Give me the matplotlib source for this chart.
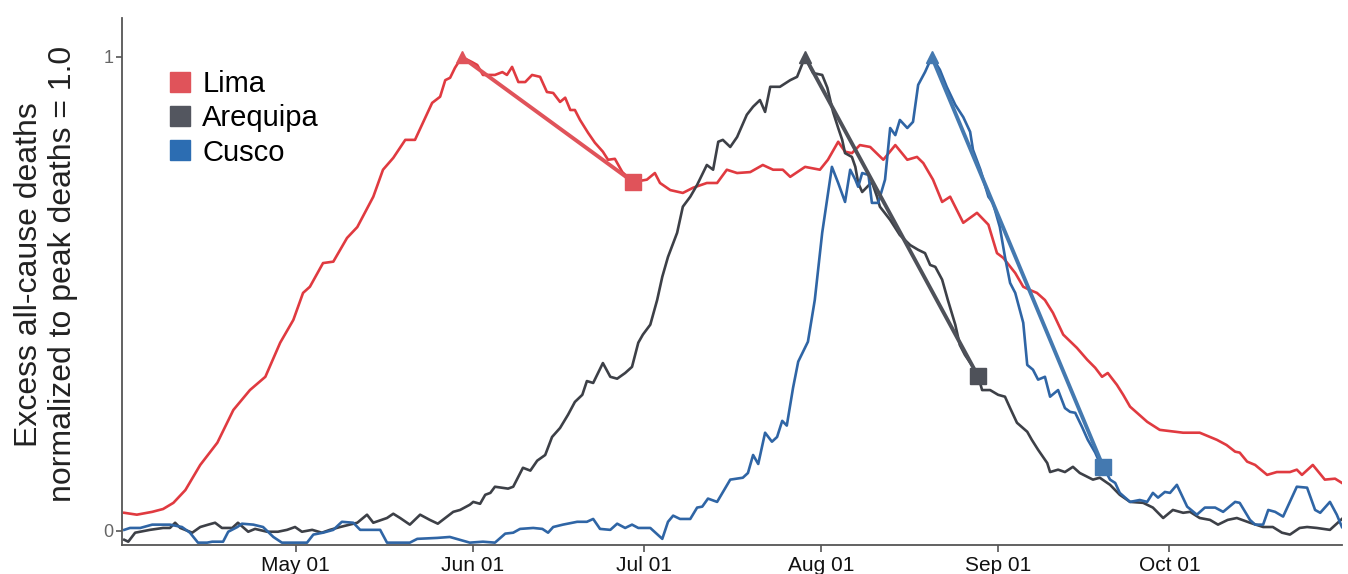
import numpy as np
import matplotlib
matplotlib.use("Agg")
import matplotlib.pyplot as plt
import matplotlib.dates as mdates
from matplotlib.lines import Line2D

plt.rcParams["font.family"] = ["Liberation Sans", "DejaVu Sans"]

# days since 2020-04-01, normalized excess deaths
start = np.datetime64("2020-04-01")

lima_day = [0.0, 2.2, 4.9, 6.8, 8.6, 10.7, 13.3, 16.3, 19.1, 22.0, 24.7, 27.3, 29.6, 31.3, 32.5,
            34.8, 36.6, 39.0, 40.8, 43.6, 45.3, 47.1, 49.2, 50.9, 53.9, 55.3, 56.2, 57.05, 57.9,
            59.1, 60.9, 61.8, 62.8, 64.9, 66.2, 67.0, 67.9, 69.0, 70.2, 71.4, 72.8, 74.0, 75.1,
            76.3, 77.2, 78.1, 78.9, 79.8, 81.2, 82.4, 83.8, 84.7, 85.9, 87.2, 89.1, 91.5, 92.9,
            93.8, 95.6, 97.8, 99.6, 102.0, 103.8, 105.5, 107.3, 109.6, 111.8, 113.6, 115.3,
            116.6, 119.2, 121.8, 123.2, 125.0, 126.2, 127.4, 128.8, 130.6, 132.9, 135.0, 137.1,
            138.8, 139.9, 141.6, 143.2, 144.6, 146.9, 149.3, 151.3, 152.8, 153.9, 156.0, 157.4,
            158.6, 159.8, 161.2, 162.6, 164.4, 166.8, 168.6, 170.0, 171.2, 172.2, 173.8, 174.9,
            176.1, 179.1, 181.3, 185.4, 188.3, 191.3, 193.0, 194.5, 195.3, 196.6, 198.0, 200.1,
            201.8, 204.1, 205.3, 206.2, 208.1, 210.2, 212.0, 213.2]
lima_val = [0.038, 0.034, 0.040, 0.046, 0.059, 0.086, 0.139, 0.186, 0.255, 0.297, 0.325, 0.397,
            0.445, 0.502, 0.515, 0.565, 0.568, 0.618, 0.641, 0.705, 0.762, 0.787, 0.825, 0.825,
            0.903, 0.916, 0.951, 0.956, 0.977, 1.0, 0.989, 0.983, 0.962, 0.962, 0.968, 0.962,
            0.979, 0.947, 0.947, 0.962, 0.958, 0.926, 0.924, 0.905, 0.914, 0.888, 0.888, 0.867,
            0.840, 0.819, 0.800, 0.783, 0.785, 0.757, 0.736, 0.741, 0.755, 0.734, 0.719, 0.713,
            0.724, 0.734, 0.734, 0.762, 0.755, 0.757, 0.772, 0.762, 0.762, 0.747, 0.768, 0.762,
            0.783, 0.821, 0.800, 0.797, 0.814, 0.810, 0.783, 0.814, 0.783, 0.789, 0.776, 0.741,
            0.694, 0.705, 0.650, 0.671, 0.646, 0.586, 0.576, 0.544, 0.515, 0.508, 0.502, 0.487,
            0.460, 0.414, 0.386, 0.361, 0.344, 0.325, 0.333, 0.308, 0.287, 0.262, 0.230, 0.213,
            0.207, 0.207, 0.192, 0.181, 0.167, 0.165, 0.146, 0.139, 0.118, 0.124, 0.124, 0.129,
            0.118, 0.139, 0.108, 0.110, 0.101]

arequipa_day = [0.0, 0.7, 1.9, 2.8, 4.5, 6.8, 8.0, 8.9, 9.8, 11.9, 13.3, 14.7, 15.9, 17.1, 18.9,
                19.9, 21.7, 22.9, 25.0, 26.9, 28.5, 29.9, 31.1, 32.9, 34.6, 36.0, 37.8, 39.5,
                40.8, 42.5, 43.6, 46.0, 47.1, 48.3, 50.0, 51.8, 53.5, 54.9, 56.2, 57.6, 58.8,
                60.5, 61.1, 62.3, 63.2, 64.1, 64.9, 67.2, 68.1, 69.8, 71.1, 72.3, 73.7, 74.9,
                76.3, 77.7, 78.9, 80.2, 81.0, 82.1, 83.8, 85.1, 86.3, 87.7, 88.9, 90.0, 90.8,
                92.1, 93.3, 94.2, 95.2, 96.8, 97.8, 99.1, 100.3, 102.0, 103.1, 104.0, 104.8,
                106.1, 107.3, 109.0, 110.1, 111.3, 112.2, 113.1, 114.8, 116.6, 117.8, 119.2,
                120.6, 122.2, 123.1, 124.1, 125.0, 125.7, 126.2, 127.4, 128.0, 128.5, 129.2,
                130.1, 130.9, 131.8, 132.3, 134.1, 135.8, 137.6, 139.0, 140.2, 141.1, 142.0,
                143.2, 144.2, 145.5, 146.3, 147.2, 148.6, 149.5, 150.2, 151.6, 153.0, 154.2,
                155.1, 156.3, 158.1, 158.9, 160.0, 161.6, 162.1, 163.5, 164.7, 166.1, 167.3,
                168.6, 169.6, 170.8, 172.6, 174.3, 176.1, 178.4, 180.1, 181.9, 183.6, 185.4,
                186.6, 188.3, 190.1, 191.5, 193.2, 194.8, 197.1, 199.4, 201.1, 202.7, 204.1,
                205.8, 207.1, 208.8, 211.1, 213.2]
arequipa_val = [-0.019, -0.023, -0.004, -0.002, 0.002, 0.006, 0.006, 0.017, 0.006, -0.004, 0.008,
                0.013, 0.017, 0.006, 0.006, 0.017, -0.002, 0.004, -0.002, -0.002, 0.002, 0.008,
                -0.002, 0.002, -0.004, 0.002, 0.008, 0.013, 0.017, 0.034, 0.017, 0.027, 0.036,
                0.027, 0.013, 0.034, 0.023, 0.015, 0.027, 0.040, 0.044, 0.055, 0.061, 0.057,
                0.076, 0.080, 0.093, 0.089, 0.093, 0.133, 0.127, 0.148, 0.160, 0.198, 0.217,
                0.245, 0.272, 0.287, 0.316, 0.312, 0.354, 0.325, 0.321, 0.333, 0.346, 0.397,
                0.414, 0.435, 0.487, 0.536, 0.578, 0.629, 0.684, 0.705, 0.730, 0.772, 0.762,
                0.821, 0.825, 0.810, 0.831, 0.878, 0.895, 0.909, 0.884, 0.937, 0.937, 0.951,
                0.958, 1.0, 0.966, 0.962, 0.935, 0.884, 0.850, 0.825, 0.797, 0.789, 0.768,
                0.734, 0.715, 0.726, 0.736, 0.705, 0.684, 0.656, 0.624, 0.603, 0.593, 0.586,
                0.561, 0.557, 0.530, 0.487, 0.435, 0.392, 0.371, 0.346, 0.326, 0.297, 0.297,
                0.287, 0.283, 0.259, 0.228, 0.209, 0.192, 0.171, 0.143, 0.124, 0.129, 0.124,
                0.135, 0.122, 0.114, 0.108, 0.112, 0.097, 0.076, 0.061, 0.059, 0.049, 0.027,
                0.044, 0.038, 0.040, 0.027, 0.023, 0.013, 0.023, 0.027, 0.017, 0.008, 0.008,
                -0.004, -0.008, 0.006, 0.008, 0.006, 0.002, 0.025]

cusco_day = [0.0, 1.0, 2.8, 4.9, 8.0, 10.1, 11.5, 12.9, 14.5, 15.4, 17.3, 18.2, 19.8, 20.6, 22.6,
             24.3, 26.1, 27.6, 32.0, 33.1, 34.8, 36.6, 38.1, 40.1, 41.3, 44.8, 46.0, 50.0, 51.3,
             54.8, 57.0, 60.5, 62.8, 64.9, 66.7, 68.1, 69.3, 71.6, 73.2, 74.2, 75.1, 76.8, 79.3,
             81.0, 82.1, 83.3, 85.1, 86.3, 87.7, 88.9, 90.0, 92.1, 94.2, 95.2, 96.1, 97.3, 99.1,
             100.3, 101.2, 102.2, 103.8, 106.1, 108.3, 109.2, 110.1, 111.0, 112.2, 113.4, 114.3,
             115.2, 116.0, 117.1, 118.0, 119.7, 120.9, 122.2, 123.9, 125.0, 126.2, 127.1, 128.0,
             128.5, 129.2, 130.3, 130.9, 132.0, 133.2, 134.1, 135.0, 135.8, 137.1, 138.1, 139.0,
             140.2, 141.4, 142.8, 144.0, 145.5, 146.9, 148.1, 148.6, 149.9, 151.3, 152.1, 153.3,
             154.2, 155.1, 156.0, 156.8, 157.4, 158.1, 159.1, 160.0, 161.2, 162.1, 163.5, 164.7,
             165.6, 166.5, 167.7, 168.7, 170.0, 170.8, 171.4, 172.6, 173.5, 174.3, 176.1, 177.8,
             179.1, 180.1, 181.0, 182.2, 183.1, 184.3, 186.1, 187.8, 189.2, 191.0, 192.4, 194.5,
             195.3, 197.1, 198.0, 199.4, 200.3, 201.5, 202.9, 205.3, 207.1, 208.5, 209.4, 211.1,
             212.3, 213.2]
cusco_val = [0.002, 0.006, 0.006, 0.013, 0.013, 0.008, -0.004, -0.025, -0.025, -0.023, -0.023,
             -0.002, 0.008, 0.015, 0.013, 0.008, -0.013, -0.025, -0.025, -0.008, -0.004, 0.002,
             0.019, 0.017, 0.002, 0.002, -0.025, -0.025, -0.017, -0.015, -0.013, -0.025, -0.023,
             -0.025, -0.006, -0.004, 0.004, 0.006, 0.004, -0.004, 0.008, 0.013, 0.019, 0.019,
             0.025, 0.004, 0.002, 0.015, 0.006, 0.013, 0.006, 0.006, -0.017, 0.019, 0.032, 0.025,
             0.025, 0.049, 0.051, 0.068, 0.061, 0.108, 0.112, 0.122, 0.160, 0.141, 0.207, 0.188,
             0.198, 0.232, 0.222, 0.302, 0.357, 0.399, 0.487, 0.629, 0.768, 0.734, 0.694, 0.762,
             0.741, 0.726, 0.755, 0.751, 0.692, 0.692, 0.741, 0.850, 0.835, 0.867, 0.850, 0.863,
             0.941, 0.968, 1.0, 0.973, 0.937, 0.899, 0.873, 0.842, 0.804, 0.762, 0.705, 0.692,
             0.641, 0.578, 0.523, 0.502, 0.466, 0.439, 0.350, 0.340, 0.319, 0.325, 0.283, 0.297,
             0.259, 0.251, 0.249, 0.219, 0.192, 0.165, 0.143, 0.135, 0.108, 0.101, 0.080, 0.061,
             0.065, 0.061, 0.080, 0.070, 0.082, 0.080, 0.097, 0.051, 0.034, 0.049, 0.049, 0.040,
             0.061, 0.059, 0.023, 0.013, 0.013, 0.044, 0.040, 0.030, 0.093, 0.091, 0.044, 0.038,
             0.061, 0.034, 0.008]

cities = ["Lima", "Arequipa", "Cusco"]
peak_day = [59.1, 119.2, 141.4]
drop_day = [89.1, 149.5, 171.4]
drop_val = [0.736, 0.326, 0.135]

line_colors = ["#E03A40", "#3D4047", "#2F65A5"]
mark_colors = ["#E0535A", "#4E5159", "#4479B0"]
legend_colors = ["#E0535A", "#53565F", "#2C6DB2"]

t0 = mdates.date2num(start)
series = [(lima_day, lima_val), (arequipa_day, arequipa_val), (cusco_day, cusco_val)]

fig = plt.figure(figsize=(13.48, 5.74), dpi=100)
ax = fig.add_axes([0.0905, 0.0505, 0.905, 0.918])

for i, (d, v) in enumerate(series):
    ax.plot(t0 + np.array(d), v, color=line_colors[i], lw=1.9, zorder=2)

# straight segment from each peak to the value 30 days later
for i in range(3):
    ax.plot([t0 + peak_day[i], t0 + drop_day[i]], [1.0, drop_val[i]],
            color=mark_colors[i], lw=2.8, solid_capstyle="butt", zorder=3)
    ax.plot(t0 + peak_day[i], 1.0, marker="^", ms=9, color=mark_colors[i],
            ls="none", zorder=4)
    ax.plot(t0 + drop_day[i], drop_val[i], marker="s", ms=11, color=mark_colors[i],
            ls="none", zorder=4)

ax.set_xlim(t0 - 0.4, t0 + 213.2)
ax.set_ylim(-0.030, 1.082)
ax.xaxis.set_major_locator(mdates.MonthLocator(bymonth=range(5, 11)))
ax.xaxis.set_major_formatter(mdates.DateFormatter("%b %d"))
ax.set_yticks([0, 1])
ax.set_yticklabels(["0", "1"])

for side in ["top", "right"]:
    ax.spines[side].set_visible(False)
for side in ["left", "bottom"]:
    ax.spines[side].set_color("#555555")
    ax.spines[side].set_linewidth(1.3)

ax.tick_params(axis="x", length=5, width=1.2, color="#555555", labelsize=15,
               labelcolor="#111111", pad=3)
ax.tick_params(axis="y", length=4, width=1.2, color="#555555", labelsize=13,
               labelcolor="#666666", pad=2)

handles = [Line2D([], [], marker="s", ls="none", ms=15, color=c) for c in legend_colors]
ax.legend(handles, cities, loc="upper left", bbox_to_anchor=(0.036, 0.902),
          frameon=False, fontsize=21, borderaxespad=0, borderpad=0,
          handletextpad=0.3, labelspacing=0.22, handlelength=0.95)

fig.text(0.034, 0.522, "Excess all-cause deaths\nnormalized to peak deaths = 1.0",
         rotation=90, ha="center", va="center", fontsize=23, color="#222222",
         multialignment="center")

fig.savefig("out.png", dpi=100)
